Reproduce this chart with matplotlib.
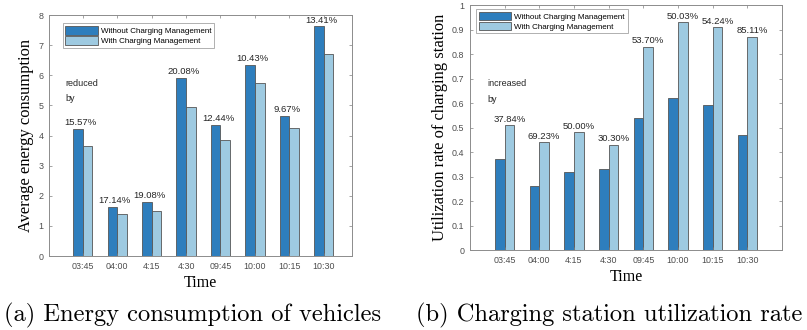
import matplotlib
matplotlib.use("Agg")
import matplotlib.pyplot as plt
import numpy as np

times = ["03:45", "04:00", "4:15", "4:30", "09:45", "10:00", "10:15", "10:30"]
energy_without = [4.22, 1.63, 1.80, 5.92, 4.35, 6.35, 4.65, 7.62]
energy_with = [3.65, 1.40, 1.50, 4.93, 3.85, 5.75, 4.25, 6.72]
energy_labels = ["15.57%", "17.14%", "19.08%", "20.08%", "12.44%", "10.43%", "9.67%", "13.41%"]
util_without = [0.37, 0.26, 0.32, 0.33, 0.54, 0.62, 0.59, 0.47]
util_with = [0.51, 0.44, 0.48, 0.43, 0.83, 0.93, 0.91, 0.87]
util_labels = ["37.84%", "69.23%", "50.00%", "30.30%", "53.70%", "50.03%", "54.24%", "85.11%"]
series_names = ["Without Charging Management", "With Charging Management"]

dark = "#2e7ebd"
light = "#9ecae1"
edge = "#555555"
tick_col = "#4d4d4d"
sans = "Liberation Sans"
serif = "Liberation Serif"

fig = plt.figure(figsize=(8.07, 3.30), dpi=100)
axL = fig.add_axes([0.0607, 0.2242, 0.3755, 0.7303])
axR = fig.add_axes([0.5824, 0.2424, 0.3866, 0.7424])

x = np.arange(1, len(times) + 1)
w = 0.28

def style(ax, xlim, ylim, yticks, ylabel):
    ax.set_xlim(*xlim)
    ax.set_ylim(*ylim)
    ax.set_xticks(x)
    ax.set_xticklabels(times, fontsize=6.4, color=tick_col, family=sans)
    ax.set_yticks(yticks)
    ax.set_yticklabels([("%g" % t) for t in yticks], fontsize=6.4, color=tick_col, family=sans)
    ax.tick_params(direction="in", top=True, right=True, length=2.5, width=0.5, colors="#7f7f7f",
                   labelcolor=tick_col, pad=4)
    for s in ax.spines.values():
        s.set_color("#8c8c8c")
        s.set_linewidth(0.7)
    ax.set_xlabel("Time", family=serif, fontsize=11.5, labelpad=3)
    ax.set_ylabel(ylabel, family=serif, fontsize=11.9, labelpad=3)

# Left
axL.bar(x - w / 2, energy_without, w, color=dark, edgecolor=edge, linewidth=0.6, label=series_names[0])
axL.bar(x + w / 2, energy_with, w, color=light, edgecolor=edge, linewidth=0.6, label=series_names[1])
for xi, v, lab in zip(x, energy_without, energy_labels):
    axL.text(xi - 0.07, v + 0.05, lab, ha="center", va="bottom", fontsize=6.8, family=sans, color="#262626")
axL.text(0.5, 5.48, "reduced\nby", ha="left", va="center", fontsize=6.5, family=sans, color="#262626",
         linespacing=1.9)
style(axL, (0.02, 8.82), (0, 8), list(range(0, 9)), "Average energy consumption")
legL = axL.legend(loc="upper left", bbox_to_anchor=(0.045, 0.965), prop={"family": sans, "size": 5.8},
                  frameon=True, fancybox=False, edgecolor="#8c8c8c", handlelength=4.0, handleheight=1.2,
                  borderpad=0.35, labelspacing=0.15, handletextpad=0.4, borderaxespad=0)
legL.get_frame().set_linewidth(0.6)

# Right
axR.bar(x - w / 2, util_without, w, color=dark, edgecolor=edge, linewidth=0.6, label=series_names[0])
axR.bar(x + w / 2, util_with, w, color=light, edgecolor=edge, linewidth=0.6, label=series_names[1])
for xi, v, lab in zip(x, util_with, util_labels):
    axR.text(xi + w / 2, v + 0.006, lab, ha="center", va="bottom", fontsize=6.8, family=sans, color="#262626")
axR.text(0.49, 0.647, "increased\nby", ha="left", va="center", fontsize=6.5, family=sans, color="#262626",
         linespacing=1.9)
style(axR, (0, 9), (0, 1), [round(0.1 * i, 1) for i in range(11)], "Utilization rate of charging station")
legR = axR.legend(loc="upper left", bbox_to_anchor=(0.019, 0.984), prop={"family": sans, "size": 5.8},
                  frameon=True, fancybox=False, edgecolor="#8c8c8c", handlelength=4.0, handleheight=1.2,
                  borderpad=0.35, labelspacing=0.15, handletextpad=0.4, borderaxespad=0)
legR.get_frame().set_linewidth(0.6)

fig.text(0.239, 0.045, "(a) Energy consumption of vehicles", ha="center", va="center", family="cmr10", fontsize=17.6)
fig.text(0.755, 0.045, "(b) Charging station utilization rate", ha="center", va="center", family="cmr10", fontsize=17.6)

fig.savefig("out.png", dpi=100)
